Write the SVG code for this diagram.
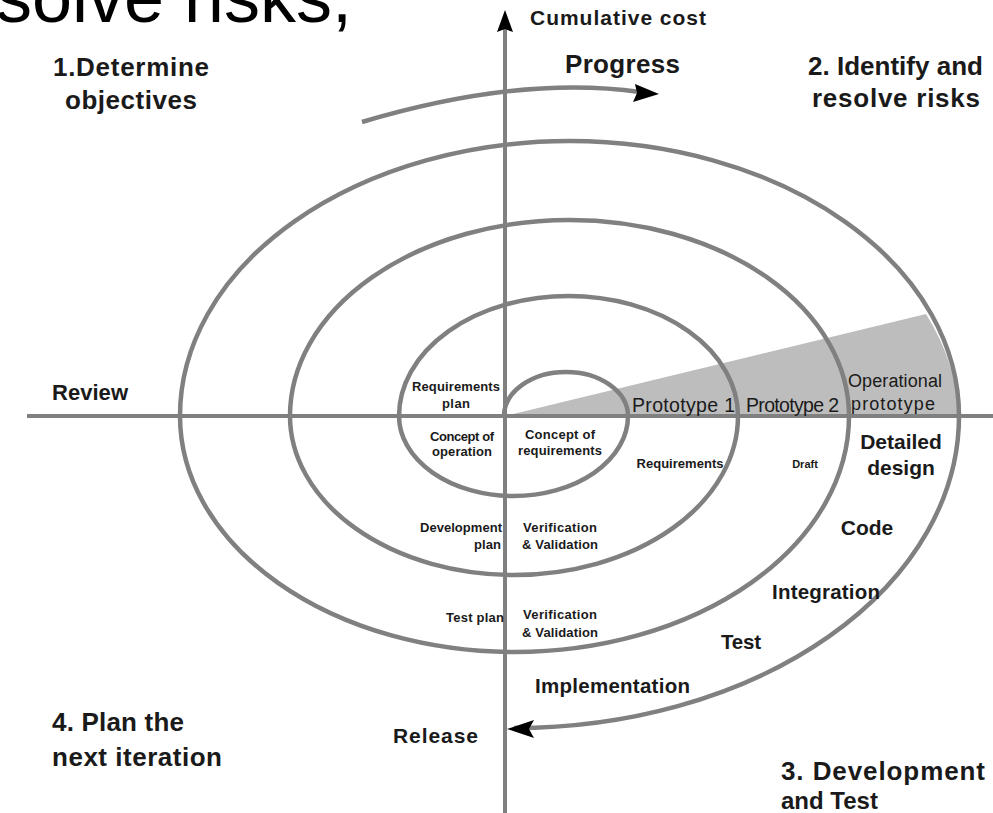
<svg xmlns="http://www.w3.org/2000/svg" width="993" height="813" viewBox="0 0 993 813">
<style>
text{font-family:"Liberation Sans",Arial,sans-serif;fill:#1a1a1a;font-weight:bold}
.big{font-size:26px}
.mid{font-size:20.5px}
.sm{font-size:13px}
.pr{font-size:19.5px;font-weight:normal}
.ax{stroke:#808080;stroke-width:4;fill:none}
.sp{stroke:#808080;stroke-width:4.5;fill:none}
.c{text-anchor:middle}
.e{text-anchor:end}
</style>
<rect width="993" height="813" fill="#fff"/>
<text x="-4" y="22" style="font-size:72px;font-weight:normal;fill:#000">solve risks,</text>
<g id="wedge"><path d="M505,416 L926,314 A389.5,275 0 0 1 959,416 Z" fill="#bdbdbd"/></g>
<g id="connectors">
<path class="ax" d="M27,416 H993"/>
<path class="ax" d="M505,26 V813"/>
<path d="M505,10 L513,32 L505,29 L497,32 Z" fill="#000"/>
<path class="sp" d="M504,416 A62,44 0 0 1 628,416 A114.5,80 0 0 1 399,416 A169.5,120 0 0 1 738,416 A224,159 0 0 1 290,416 A279.5,196 0 0 1 849,416 A334.5,236 0 0 1 180,416 A389.5,275 0 0 1 959,416 A445,312 0 0 1 514,728 L525,728"/>
<path d="M507,729 L534,720 L529,729 L534,738 Z" fill="#000"/>
<path class="sp" d="M362,122 Q520,75 640,92"/>
<path d="M659,94 L633,102 L637,93 L635,84 Z" fill="#000"/>
</g>
<g id="quadrants">
<text class="big" x="53" y="76" textLength="156">1.Determine</text>
<text class="big" x="65" y="109" textLength="132">objectives</text>
<text class="big" x="808" y="75" textLength="175">2. Identify and</text>
<text class="big" x="812" y="107" textLength="168">resolve risks</text>
<text class="big" x="781" y="780" textLength="204">3. Development</text>
<text x="781" y="809" style="font-size:24px">and Test</text>
<text class="big" x="52" y="731" textLength="132">4. Plan the</text>
<text class="big" x="52" y="766" textLength="170">next iteration</text>
</g>
<g id="axis-labels">
<text x="530" y="25" style="font-size:21px" textLength="176">Cumulative cost</text>
<text x="565" y="73" style="font-size:26px" textLength="115">Progress</text>
<text x="52" y="400" style="font-size:22px" textLength="76">Review</text>
<text x="393" y="743" style="font-size:21px" textLength="85">Release</text>
</g>
<g id="prototypes">
<text class="pr" x="632" y="412" textLength="103">Prototype 1</text>
<text class="pr" x="746" y="412" textLength="93">Prototype 2</text>
<text class="pr" x="848" y="387" style="font-size:18px" textLength="94">Operational</text>
<text class="pr" x="851" y="410" style="font-size:18px" textLength="84">prototype</text>
</g>
<g id="inner-labels">
<text class="sm c" x="456" y="391" textLength="88">Requirements</text>
<text class="sm c" x="456" y="408" textLength="28">plan</text>
<text class="sm c" x="462" y="441" textLength="64">Concept of</text>
<text class="sm c" x="462" y="456" textLength="60">operation</text>
<text class="sm c" x="560" y="439" textLength="70">Concept of</text>
<text class="sm c" x="560" y="455" textLength="84">requirements</text>
<text class="sm c" x="680" y="468" textLength="87">Requirements</text>
<text class="c" x="805" y="468" style="font-size:11px">Draft</text>
<text class="sm e" x="502" y="532" textLength="82">Development</text>
<text class="sm e" x="501" y="549" textLength="27">plan</text>
<text class="sm c" x="560" y="532" textLength="74">Verification</text>
<text class="sm c" x="560" y="549" textLength="76">&amp; Validation</text>
<text class="sm e" x="504" y="622" textLength="58">Test plan</text>
<text class="sm c" x="560" y="619" textLength="74">Verification</text>
<text class="sm c" x="560" y="637" textLength="76">&amp; Validation</text>
</g>
<g id="phases">
<text class="c" x="901" y="449" style="font-size:21px">Detailed</text>
<text class="c" x="901" y="475" style="font-size:21px">design</text>
<text class="c" x="867" y="535" style="font-size:21px">Code</text>
<text class="mid" x="772" y="599" textLength="108">Integration</text>
<text class="mid" x="721" y="649" textLength="40">Test</text>
<text class="mid" x="535" y="693" textLength="155">Implementation</text>
</g>
</svg>
